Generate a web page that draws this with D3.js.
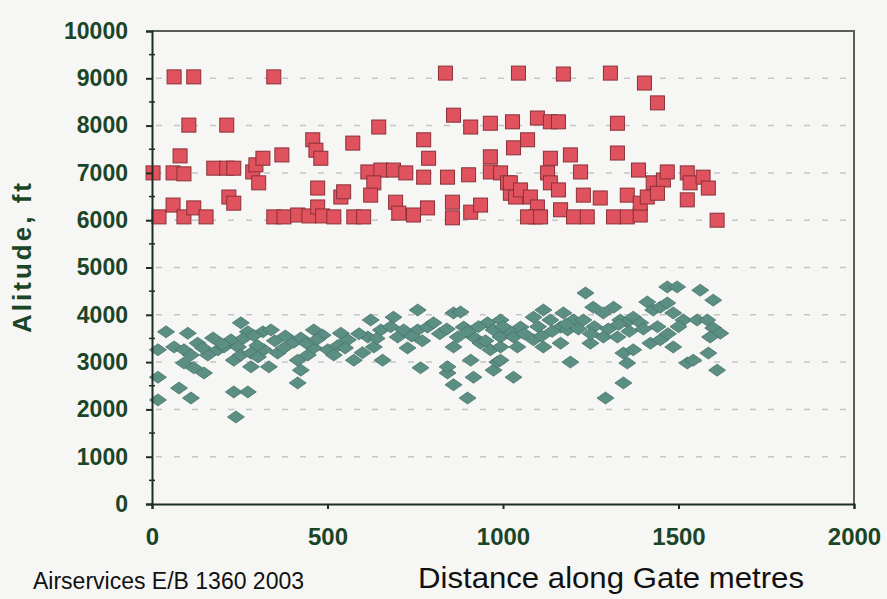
<!DOCTYPE html>
<html>
<head>
<meta charset="utf-8">
<script src="https://cdn.jsdelivr.net/npm/d3@7"></script>
<style>
    body { margin: 0; background: #f6f6f4; }
    svg { display: block; }
    text { font-family: "Liberation Sans", Arial, sans-serif; }
</style>
</head>
<body>
<div id="chart"></div>
<script>

// Axis ticks
var xTicks = [0, 500, 1000, 1500, 2000];
var yTicks = [0, 1000, 2000, 3000, 4000, 5000, 6000, 7000, 8000, 9000, 10000];

// Red squares: [distance m, altitude ft]
var highAlt = [
    [63, 9030], [119, 9030], [347, 9030], [836, 9110], [1044, 9110], [1172, 9090],
    [1306, 9110], [1403, 8900], [1440, 8480],
    [105, 8010], [213, 8010], [646, 7970], [859, 8220], [908, 7970], [964, 8050],
    [1027, 8080], [1098, 8160], [1135, 8080], [1158, 8080], [1326, 8050],
    [80, 7360], [370, 7380], [458, 7700], [467, 7480], [481, 7310], [572, 7630],
    [774, 7700], [788, 7310], [964, 7340], [1030, 7530], [1070, 7700], [1135, 7310],
    [1192, 7380], [1326, 7420],
    [3, 7000], [60, 7000], [91, 6980], [176, 7100], [213, 7100], [233, 7100],
    [287, 7020], [296, 7170], [316, 7310], [304, 6790], [472, 6680], [538, 6490],
    [546, 6600], [575, 6070], [603, 6070], [615, 7020], [652, 7060], [688, 7060],
    [723, 7000], [632, 6790], [623, 6530], [694, 6380], [703, 6150], [745, 6110],
    [785, 6260], [774, 6910], [842, 6910], [902, 6960], [856, 6380], [856, 6050],
    [908, 6170], [936, 6320], [964, 7020], [993, 7000], [1013, 6790], [1021, 6570],
    [1036, 6490], [1021, 6790], [1050, 6640], [1078, 6490], [1098, 6280], [1092, 6070],
    [1127, 7000], [1135, 6790], [1158, 6640], [1164, 6220], [1201, 6070], [1240, 6070],
    [1221, 7020], [1229, 6530], [1277, 6470], [1315, 6070], [1354, 6070], [1391, 6110],
    [1354, 6530], [1391, 6360], [1386, 7060], [1428, 6790], [1457, 6850], [1468, 7020],
    [1411, 6490], [1440, 6570], [1525, 7000], [1533, 6790], [1525, 6430], [1570, 6910],
    [1585, 6680], [1610, 6000],
    [20, 6070], [60, 6320], [91, 6070], [119, 6260], [154, 6070], [219, 6490],
    [233, 6360], [347, 6070], [376, 6070], [415, 6110], [447, 6090], [472, 6280],
    [486, 6090], [518, 6070], [1070, 6070], [1107, 6070]
];

// Green diamonds: [distance m, altitude ft]
var lowAlt = [
    [40, 3640], [102, 3610], [174, 3510], [253, 3830], [273, 3640], [316, 3640],
    [339, 3680], [17, 3260], [63, 3320], [91, 3260], [111, 3150], [91, 2980],
    [119, 2880], [148, 2770], [159, 3150], [188, 3260], [205, 3320], [225, 3470],
    [245, 3320], [233, 3040], [253, 3150], [282, 3190], [302, 3110], [319, 3260],
    [333, 2900], [282, 2900], [358, 3190], [376, 3300], [404, 3420], [424, 3510],
    [415, 3040], [424, 2830], [415, 2560], [444, 3150], [461, 3300], [461, 3680],
    [486, 3570], [501, 3260], [518, 3150], [538, 3610], [558, 3470], [575, 3040],
    [615, 3530], [623, 3890], [632, 3320], [652, 3680], [657, 3040], [688, 3950],
    [700, 3530], [717, 3680], [728, 3300], [757, 4100], [757, 3680], [765, 2880],
    [785, 3740], [802, 3830],
    [17, 2680], [77, 2450], [111, 2240], [17, 2200], [233, 2370], [273, 2370],
    [239, 1840],
    [842, 2770], [859, 2520], [899, 2240], [842, 2900], [908, 3040], [916, 2680],
    [973, 2830], [984, 3000], [1030, 2680], [964, 3260], [859, 4040], [879, 4060],
    [871, 3530], [859, 3320], [888, 3740], [916, 3530], [936, 3400], [956, 3830],
    [973, 3680], [993, 3530], [1021, 3640], [1041, 3320],
    [1468, 4590], [1496, 4590], [1562, 4520], [1599, 4310], [1235, 4460], [1411, 4270],
    [993, 3890], [1050, 3740], [1087, 3950], [1115, 4100], [1135, 3890], [1164, 3740],
    [1172, 4040], [1184, 3680], [1201, 3890], [1229, 3890], [1257, 4160], [1286, 4040],
    [1315, 4160], [1334, 3890], [1354, 3850], [1371, 3950], [1391, 3830], [1428, 4100],
    [1448, 4160], [1468, 4250], [1485, 4040], [1514, 3890], [1553, 3890], [1582, 3890],
    [1599, 3720], [1619, 3610], [1590, 3530],
    [1030, 3530], [1087, 3470], [1115, 3320], [1164, 3400], [1249, 3400], [1286, 3530],
    [1326, 3530], [1343, 3190], [1371, 3260], [1420, 3400], [1448, 3470], [1485, 3320],
    [1354, 2980], [1192, 3000], [1525, 2980], [1542, 3040], [1585, 3190], [1610, 2830],
    [1343, 2560], [1292, 2240], [993, 3040], [993, 3320],
    [130, 3400], [145, 3300], [200, 3380], [260, 3500], [290, 3560], [300, 3350],
    [350, 3450], [380, 3550], [440, 3400], [470, 3480], [530, 3350], [590, 3600],
    [640, 3500], [680, 3750], [740, 3550], [770, 3450], [820, 3600], [840, 3700],
    [900, 3650], [930, 3750], [1000, 3750], [1060, 3600], [1100, 3750], [1140, 3650],
    [1180, 3800], [1215, 3700], [1260, 3750], [1300, 3700], [1330, 3800], [1360, 3650],
    [1400, 3700], [1440, 3750], [1470, 3600], [1500, 3750], [1110, 3550], [1250, 3600],
    [950, 3450], [550, 3300], [600, 3200]
];

var width = 887, height = 599;
var green = '#1b4527';

var svg = d3.select('#chart').append('svg')
    .attr('width', width)
    .attr('height', height);

svg.append('rect')
    .attr('width', width)
    .attr('height', height)
    .style('fill', '#f6f6f4');

var x = d3.scaleLinear().domain([0, 2000]).range([152, 854]);
var y = d3.scaleLinear().domain([0, 10000]).range([504, 31]);

// Dashed grid lines
svg.append('g')
    .selectAll('line')
        .data(yTicks.slice(1, yTicks.length - 1))
    .enter().append('line')
        .attr('x1', x(0) + 4)
        .attr('x2', x(2000) - 4)
        .attr('y1', function(d) { return y(d); })
        .attr('y2', function(d) { return y(d); })
        .style('stroke', '#c4c6c4')
        .style('stroke-width', 1.5)
        .style('stroke-dasharray', '6,12');

// Top and right frame
svg.append('path')
    .attr('d', 'M' + x(0) + ',' + y(10000) + 'H' + x(2000) + 'V' + y(0))
    .style('fill', 'none')
    .style('stroke', '#5a5e5a')
    .style('stroke-width', 2);

// Markers
svg.append('g')
    .selectAll('path')
        .data(lowAlt)
    .enter().append('path')
        .attr('transform', function(d) {
            return 'translate(' + x(d[0]) + ',' + y(d[1]) + ')';
        })
        .attr('d', 'M-8.5,0L0,-6L8.5,0L0,6Z')
        .style('fill', '#5b8f84')
        .style('stroke', '#477468')
        .style('stroke-width', 0.8);

svg.append('g')
    .selectAll('rect')
        .data(highAlt)
    .enter().append('rect')
        .attr('x', function(d) { return x(d[0]) - 7; })
        .attr('y', function(d) { return y(d[1]) - 7; })
        .attr('width', 14)
        .attr('height', 14)
        .style('fill', '#e0535e')
        .style('stroke', '#8a3038')
        .style('stroke-width', 1);

// Axes
var yAxis = svg.append('g')
    .attr('transform', 'translate(' + x(0) + ',0)')
    .call(d3.axisLeft(y).tickValues(yTicks).tickSize(6).tickPadding(18)
        .tickFormat(d3.format('d')));

var xAxis = svg.append('g')
    .attr('transform', 'translate(0,' + y(0) + ')')
    .call(d3.axisBottom(x).tickValues(xTicks).tickSize(5).tickPadding(19)
        .tickFormat(d3.format('d')));

[yAxis, xAxis].forEach(function(ax) {
    ax.select('.domain').style('stroke', '#1c2e1f').style('stroke-width', 2);
    ax.selectAll('.tick line').style('stroke', '#1c2e1f').style('stroke-width', 2);
    ax.selectAll('.tick text')
        .style('fill', green)
        .style('font-size', '23px')
        .style('font-weight', 'bold');
});
xAxis.selectAll('.tick text').style('font-size', '24px');

// Minor ticks on the altitude axis
svg.append('g')
    .selectAll('line')
        .data(yTicks.slice(0, yTicks.length - 1).map(function(d) { return d + 500; }))
    .enter().append('line')
        .attr('x1', x(0) - 3)
        .attr('x2', x(0) + 3)
        .attr('y1', function(d) { return y(d); })
        .attr('y2', function(d) { return y(d); })
        .style('stroke', '#1c2e1f')
        .style('stroke-width', 1.5);

// Labels
svg.append('text')
    .attr('transform', 'translate(31,258) rotate(-90)')
    .attr('text-anchor', 'middle')
    .attr('textLength', 150)
    .attr('lengthAdjust', 'spacing')
    .style('font-size', '26px')
    .style('font-weight', 'bold')
    .style('fill', green)
    .text('Alitude, ft');

svg.append('text')
    .attr('x', 418)
    .attr('y', 588)
    .attr('textLength', 386)
    .attr('lengthAdjust', 'spacingAndGlyphs')
    .style('font-size', '30px')
    .style('fill', '#111')
    .text('Distance along Gate metres');

svg.append('text')
    .attr('x', 33)
    .attr('y', 589)
    .style('font-size', '23px')
    .style('fill', '#111')
    .text('Airservices E/B 1360 2003');

</script>
</body>
</html>
